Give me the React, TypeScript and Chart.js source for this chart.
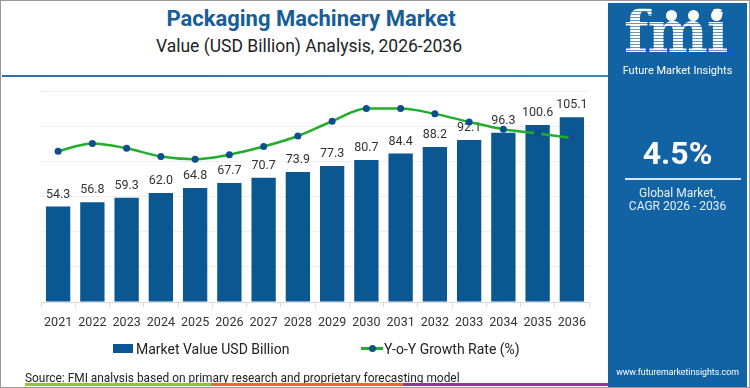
import React, { useEffect, useRef } from "react";
import { Chart, registerables } from "chart.js";

Chart.register(...registerables);

const years = ["2021", "2022", "2023", "2024", "2025", "2026", "2027", "2028", "2029", "2030", "2031", "2032", "2033", "2034", "2035", "2036"];
const marketValue = [54.3, 56.8, 59.3, 62.0, 64.8, 67.7, 70.7, 73.9, 77.3, 80.7, 84.4, 88.2, 92.1, 96.3, 100.6, 105.1];
const growthRate = [4.29, 4.51, 4.37, 4.14, 4.06, 4.19, 4.42, 4.72, 5.14, 5.5, 5.5, 5.35, 5.12, 4.91, 4.79, 4.66];
const valueAxisMax = 120;
const valueAxisStep = 20;
const growthAxisMax = 6;

const BAR_COLOR = "#0b5792";
const LINE_COLOR = "#22ad2b";
const POINT_COLOR = "#0c4f8c";
const FONT = "Roboto, 'Open Sans', sans-serif";

const barLabelPlugin = {
  id: "barLabels",
  afterDatasetDraw(chart: any, args: any) {
    if (args.index !== 0) return;
    const ctx = chart.ctx;
    const meta = chart.getDatasetMeta(0);
    ctx.save();
    ctx.font = `12.5px ${FONT}`;
    ctx.fillStyle = "#333333";
    ctx.textAlign = "center";
    ctx.textBaseline = "middle";
    meta.data.forEach((bar: any, i: number) => {
      const v = chart.data.datasets[0].data[i] as number;
      ctx.fillText(v.toFixed(1), bar.x, bar.y - 12);
    });
    ctx.restore();
  },
};

function ChartCanvas() {
  const ref = useRef<HTMLCanvasElement | null>(null);
  useEffect(() => {
    if (!ref.current) return;
    const chart = new Chart(ref.current, {
      type: "bar",
      data: {
        labels: years,
        datasets: [
          {
            type: "bar",
            label: "Market Value USD Billion",
            data: marketValue,
            backgroundColor: BAR_COLOR,
            borderWidth: 0,
            barPercentage: 0.71,
            categoryPercentage: 1,
            yAxisID: "y",
            order: 2,
          },
          {
            type: "line",
            label: "Y-o-Y Growth Rate (%)",
            data: growthRate,
            borderColor: LINE_COLOR,
            borderWidth: 2.5,
            cubicInterpolationMode: "monotone",
            pointRadius: 3.5,
            pointBackgroundColor: POINT_COLOR,
            pointBorderColor: POINT_COLOR,
            pointBorderWidth: 0,
            yAxisID: "y1",
            order: 1,
          } as any,
        ],
      },
      options: {
        responsive: false,
        animation: false,
        layout: { padding: { left: 40, right: 20, top: 90, bottom: 0 } },
        plugins: { legend: { display: false }, tooltip: { enabled: false } },
        scales: {
          x: {
            offset: true,
            grid: { display: true, drawOnChartArea: false, offset: true, tickLength: 5, color: "#d9d9d9" },
            border: { display: true, color: "#d9d9d9" },
            ticks: { color: "#333333", font: { size: 12.5, family: FONT }, padding: 8, maxRotation: 0, autoSkip: false },
            afterFit(scale: any) {
              scale.height = 39;
            },
          },
          y: {
            min: 0,
            max: valueAxisMax,
            ticks: { display: false, stepSize: valueAxisStep },
            grid: { color: "#efefef", drawTicks: false },
            border: { display: false },
            afterFit(scale: any) {
              scale.width = 0;
            },
          },
          y1: {
            display: false,
            min: 0,
            max: growthAxisMax,
          },
        },
      },
      plugins: [barLabelPlugin],
    });
    return () => chart.destroy();
  }, []);
  return <canvas ref={ref} width={608} height={340} style={{ position: "absolute", left: 0, top: 0, width: 608, height: 340 }} />;
}

export default function App() {
  return (
    <div
      style={{
        position: "fixed",
        left: 0,
        top: 0,
        width: 750,
        height: 388,
        background: "#ffffff",
        boxSizing: "border-box",
        border: "1px solid #9a9a9a",
        overflow: "hidden",
        fontFamily: FONT,
      }}
    >
      <div style={{ position: "absolute", left: 0, top: 5, width: 620, textAlign: "center", fontSize: 22, fontWeight: 700, color: "#175d97", lineHeight: "26px" }}>
        Packaging Machinery Market
      </div>
      <div style={{ position: "absolute", left: 0, top: 33, width: 616, textAlign: "center", fontSize: 17.5, color: "#222222", lineHeight: "24px" }}>
        Value (USD Billion) Analysis, 2026-2036
      </div>
      <div style={{ position: "absolute", left: 1, top: 74, width: 608, height: 2, background: "linear-gradient(to right, #2c6fa8, #3a8ac4)" }} />
      <ChartCanvas />
      {/* legend */}
      <div style={{ position: "absolute", left: 112, top: 343, width: 20, height: 9, background: BAR_COLOR }} />
      <div style={{ position: "absolute", left: 135, top: 338, fontSize: 14, color: "#222222", lineHeight: "20px", whiteSpace: "nowrap" }}>Market Value USD Billion</div>
      <div style={{ position: "absolute", left: 360, top: 346, width: 22, height: 3, background: LINE_COLOR }} />
      <div style={{ position: "absolute", left: 367.5, top: 344, width: 7, height: 7, borderRadius: 4, background: POINT_COLOR }} />
      <div style={{ position: "absolute", left: 383, top: 338, fontSize: 14, color: "#222222", lineHeight: "20px", whiteSpace: "nowrap" }}>Y-o-Y Growth Rate (%)</div>
      {/* source */}
      <div style={{ position: "absolute", left: 24, top: 368.5, fontSize: 11.9, color: "#222222", lineHeight: "16px", whiteSpace: "nowrap" }}>
        Source: FMI analysis based on primary research and proprietary forecasting model
      </div>
      <div style={{ position: "absolute", left: 24, top: 382, width: 186, height: 3, background: "#8cc63f" }} />
      <div style={{ position: "absolute", left: 210, top: 382, width: 192, height: 3, background: "#ef6a2c" }} />
      <div style={{ position: "absolute", left: 402, top: 382, width: 205, height: 3, background: "#8d3a95" }} />
      {/* right panel */}
      <div style={{ position: "absolute", left: 607, top: 2, width: 139, height: 384, background: "#1263a4", color: "#ffffff" }}>
        <div
          style={{
            position: "absolute",
            left: 16,
            top: 0,
            fontFamily: "'DejaVu Serif', serif",
            fontWeight: 700,
            fontSize: 57,
            lineHeight: "57px",
            letterSpacing: -1,
            background: "repeating-linear-gradient(to bottom, #ffffff 0px, #ffffff 2px, rgba(255,255,255,0.35) 2px, rgba(255,255,255,0.35) 3px)",
            WebkitBackgroundClip: "text",
            backgroundClip: "text",
            color: "transparent",
          }}
        >
          fmi
        </div>
        <div style={{ position: "absolute", left: 58, top: 7, width: 11, height: 11, borderRadius: 6, background: "#ffffff" }} />
        <div style={{ position: "absolute", left: 80, top: 7, width: 11, height: 11, borderRadius: 6, background: "#ffffff" }} />
        <div style={{ position: "absolute", left: 103, top: 7, width: 11, height: 11, borderRadius: 6, background: "#ffffff" }} />
        <div style={{ position: "absolute", left: 0, top: 60, width: 139, textAlign: "center", fontSize: 11, lineHeight: "16px" }}>Future Market Insights</div>
        <div style={{ position: "absolute", left: 0, top: 129, width: 139, textAlign: "center", fontSize: 32, fontWeight: 700, lineHeight: "42px" }}>4.5%</div>
        <div style={{ position: "absolute", left: 17, top: 175, width: 116, height: 1.5, background: "#d8e6f2" }} />
        <div style={{ position: "absolute", left: 0, top: 184, width: 139, textAlign: "center", fontSize: 12, lineHeight: "13px", color: "#e8f0f8" }}>
          Global Market,
          <br />
          CAGR 2026 - 2036
        </div>
        <div style={{ position: "absolute", left: 0, top: 362, width: 139, textAlign: "center", fontSize: 8.8, lineHeight: "14px", whiteSpace: "nowrap" }}>www.futuremarketinsights.com</div>
      </div>
    </div>
  );
}
